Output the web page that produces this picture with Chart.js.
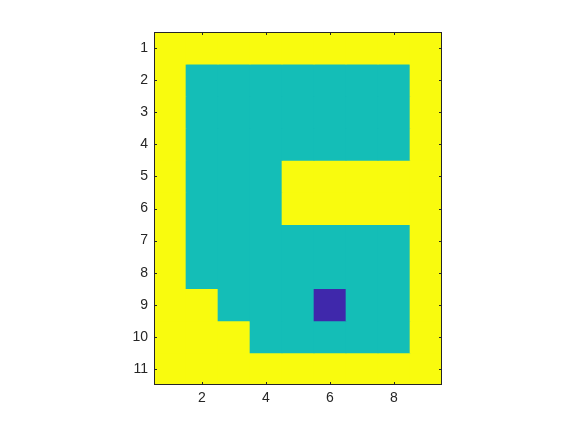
<!DOCTYPE html>
<html>
<head>
<meta charset="utf-8">
<script src="https://cdn.jsdelivr.net/npm/chart.js@4/dist/chart.umd.min.js"></script>
<style>
html,body{margin:0;padding:0;background:#fff;}
#wrap{width:577px;height:433px;position:relative;}
</style>
</head>
<body>
<div id="wrap"><canvas id="c" width="577" height="433"></canvas></div>
<script>
// Column indices (x) and row indices (y)
const xCats = [1, 2, 3, 4, 5, 6, 7, 8, 9];
const yRows = [1, 2, 3, 4, 5, 6, 7, 8, 9, 10, 11];
const xTickLabels = [2, 4, 6, 8];
const yTickLabels = [1, 2, 3, 4, 5, 6, 7, 8, 9, 10, 11];

// Cell values: 2 = high (yellow), 1 = mid (teal), 0 = low (blue)
const row1  = [2, 2, 2, 2, 2, 2, 2, 2, 2];
const row2  = [2, 1, 1, 1, 1, 1, 1, 1, 2];
const row3  = [2, 1, 1, 1, 1, 1, 1, 1, 2];
const row4  = [2, 1, 1, 1, 1, 1, 1, 1, 2];
const row5  = [2, 1, 1, 1, 2, 2, 2, 2, 2];
const row6  = [2, 1, 1, 1, 2, 2, 2, 2, 2];
const row7  = [2, 1, 1, 1, 1, 1, 1, 1, 2];
const row8  = [2, 1, 1, 1, 1, 1, 1, 1, 2];
const row9  = [2, 2, 1, 1, 1, 0, 1, 1, 2];
const row10 = [2, 2, 2, 1, 1, 1, 1, 1, 2];
const row11 = [2, 2, 2, 2, 2, 2, 2, 2, 2];
const rows = [row1, row2, row3, row4, row5, row6, row7, row8, row9, row10, row11];

// colormap (parula-like) for values 0,1,2
const cmap = ['#3F28AB', '#14BEB7', '#F9FB0E'];

const datasets = rows.map((row, i) => {
  const r = yRows[i];
  return {
    label: 'row ' + r,
    data: xCats.map(() => [r - 0.5, r + 0.5]),
    backgroundColor: row.map(v => cmap[v]),
    borderWidth: 0,
    grouped: false,
    barPercentage: 1,
    categoryPercentage: 1
  };
});

const AXC = '#262626';
const frame = {
  id: 'frame',
  afterDraw(chart) {
    const {ctx, chartArea: a, scales} = chart;
    ctx.save();
    ctx.strokeStyle = AXC;
    ctx.lineWidth = 1;
    ctx.beginPath();
    xTickLabels.forEach(v => {
      const px = Math.round(scales.x.getPixelForValue(v - 1)) + 0.5;
      ctx.moveTo(px, a.bottom); ctx.lineTo(px, a.bottom - 3);
      ctx.moveTo(px, a.top); ctx.lineTo(px, a.top + 3);
    });
    yTickLabels.forEach(v => {
      const py = Math.round(scales.y.getPixelForValue(v)) + 0.5;
      ctx.moveTo(a.left, py); ctx.lineTo(a.left + 3, py);
      ctx.moveTo(a.right, py); ctx.lineTo(a.right - 3, py);
    });
    ctx.stroke();
    ctx.strokeRect(a.left + 0.5, a.top + 0.5, a.right - a.left - 1, a.bottom - a.top - 1);
    ctx.restore();
  }
};

new Chart(document.getElementById('c'), {
  type: 'bar',
  data: { labels: xCats.map(String), datasets },
  options: {
    responsive: false,
    animation: false,
    layout: { padding: { left: 0, right: 135, top: 32, bottom: 18 } },
    plugins: { legend: { display: false }, tooltip: { enabled: false } },
    scales: {
      x: {
        type: 'category',
        offset: true,
        grid: { display: false, drawTicks: false },
        border: { display: false },
        ticks: {
          autoSkip: false,
          maxRotation: 0,
          padding: 5,
          color: AXC,
          font: { family: 'Liberation Sans, Arial, sans-serif', size: 14 },
          callback: function(val, idx) {
            const v = xCats[idx];
            return xTickLabels.includes(v) ? String(v) : '';
          }
        },
        afterFit(s) { s.height = 30; }
      },
      y: {
        type: 'linear',
        reverse: true,
        min: 0.5,
        max: 11.5,
        grid: { display: false, drawTicks: false },
        border: { display: false },
        afterBuildTicks(s) { s.ticks = yTickLabels.map(v => ({ value: v })); },
        ticks: {
          padding: 6,
          color: AXC,
          font: { family: 'Liberation Sans, Arial, sans-serif', size: 14 },
          callback: v => String(v)
        },
        afterFit(s) { s.width = 154; }
      }
    }
  },
  plugins: [frame]
});
</script>
</body>
</html>
